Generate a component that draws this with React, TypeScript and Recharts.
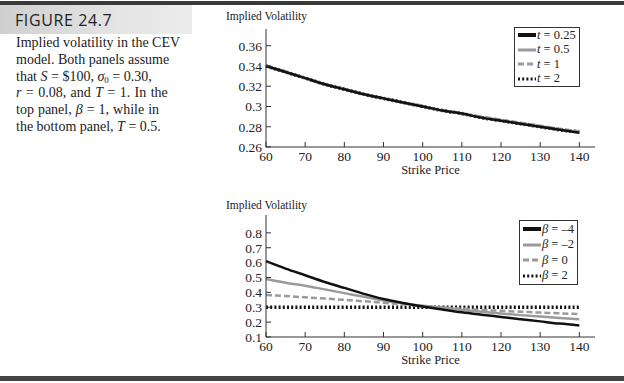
import { LineChart, Line, XAxis, YAxis } from "recharts";

const strikes = [60, 65, 70, 75, 80, 85, 90, 95, 100, 105, 110, 115, 120, 125, 130, 135, 140];

// top panel, beta = 1
const volT025 = [0.34, 0.334, 0.328, 0.322, 0.317, 0.312, 0.308, 0.304, 0.3, 0.296, 0.293, 0.289, 0.286, 0.283, 0.28, 0.277, 0.274];
const volT05 = [0.34, 0.334, 0.328, 0.322, 0.317, 0.312, 0.308, 0.304, 0.3, 0.296, 0.293, 0.289, 0.286, 0.283, 0.28, 0.277, 0.2745];
const volT1 = [0.34, 0.334, 0.328, 0.322, 0.317, 0.312, 0.308, 0.304, 0.3, 0.296, 0.293, 0.29, 0.287, 0.284, 0.281, 0.278, 0.2755];
const volT2 = [0.34, 0.334, 0.328, 0.322, 0.317, 0.312, 0.308, 0.304, 0.3, 0.296, 0.293, 0.289, 0.286, 0.283, 0.28, 0.277, 0.275];

// bottom panel, T = 0.5
const volBetaM4 = [0.61, 0.56, 0.515, 0.47, 0.43, 0.39, 0.355, 0.328, 0.305, 0.285, 0.266, 0.25, 0.235, 0.22, 0.205, 0.19, 0.178];
const volBetaM2 = [0.49, 0.465, 0.445, 0.42, 0.395, 0.37, 0.345, 0.327, 0.31, 0.296, 0.283, 0.27, 0.258, 0.247, 0.237, 0.228, 0.22];
const volBeta0 = [0.383, 0.375, 0.367, 0.358, 0.35, 0.34, 0.33, 0.32, 0.308, 0.298, 0.29, 0.282, 0.276, 0.27, 0.264, 0.259, 0.254];
const volBeta2 = [0.3, 0.3, 0.3, 0.3, 0.3, 0.3, 0.3, 0.3, 0.3, 0.3, 0.3, 0.3, 0.3, 0.3, 0.3, 0.3, 0.3];

const strikeTicks = [60, 70, 80, 90, 100, 110, 120, 130, 140];
const topVolTicks = [0.26, 0.28, 0.3, 0.32, 0.34, 0.36];
const bottomVolTicks = [0.1, 0.2, 0.3, 0.4, 0.5, 0.6, 0.7, 0.8];

const SERIF = "'Liberation Serif', 'Times New Roman', serif";
const INK = "#222";

type Series = {
  key: string;
  values: number[];
  sym: string;
  val: string;
  color: string;
  width: number;
  dash?: string;
};

// drawn back to front; legend lists them in reverse
const topSeries: Series[] = [
  { key: "t2", values: volT2, sym: "t", val: "2", color: "#111", width: 3.5, dash: "2 2.2" },
  { key: "t1", values: volT1, sym: "t", val: "1", color: "#9a9a9a", width: 2.5, dash: "6 3" },
  { key: "t05", values: volT05, sym: "t", val: "0.5", color: "#9a9a9a", width: 2.5 },
  { key: "t025", values: volT025, sym: "t", val: "0.25", color: "#111", width: 2.5 },
];

const bottomSeries: Series[] = [
  { key: "b2", values: volBeta2, sym: "β", val: "2", color: "#111", width: 3.5, dash: "2 2.2" },
  { key: "b0", values: volBeta0, sym: "β", val: "0", color: "#9a9a9a", width: 2.5, dash: "6 3" },
  { key: "bm2", values: volBetaM2, sym: "β", val: "–2", color: "#9a9a9a", width: 2.5 },
  { key: "bm4", values: volBetaM4, sym: "β", val: "–4", color: "#111", width: 2.5 },
];

const fmt = (v: number) => String(+v.toFixed(2));

function LegendBox({ series, left, top, width, height }: { series: Series[]; left: number; top: number; width: number; height: number }) {
  const rows = [...series].reverse();
  return (
    <div
      style={{
        position: "absolute",
        left,
        top,
        width,
        height,
        border: "1px solid #333",
        background: "#fff",
        boxSizing: "border-box",
        padding: "0 0 0 3px",
        fontFamily: SERIF,
        fontSize: 12.5,
        color: INK,
        display: "flex",
        flexDirection: "column",
        justifyContent: "space-evenly",
      }}
    >
      {rows.map((s) => (
        <div key={s.key} style={{ display: "flex", alignItems: "center", height: 14, whiteSpace: "nowrap" }}>
          <svg width={18} height={8} style={{ marginRight: 1 }}>
            <line
              x1={0}
              y1={4}
              x2={18}
              y2={4}
              stroke={s.color}
              strokeWidth={s.key === "t025" || s.key === "bm4" ? 4 : 3}
              strokeDasharray={s.dash}
            />
          </svg>
          <span>
            <i>{s.sym}</i> = {s.val}
          </span>
        </div>
      ))}
    </div>
  );
}

function Panel({
  series,
  top,
  plotTop,
  yDomain,
  yTicks,
  titleDy,
}: {
  series: Series[];
  top: number;
  plotTop: number;
  yDomain: [number, number];
  yTicks: number[];
  titleDy: number;
}) {
  const data = strikes.map((k, i) => {
    const row: Record<string, number> = { strike: k };
    series.forEach((s) => (row[s.key] = s.values[i]));
    return row;
  });
  const tick = { fontSize: 13.5, fill: INK, fontFamily: SERIF };
  return (
    <div style={{ position: "absolute", left: 0, top }}>
      <LineChart width={624} height={190} data={data} margin={{ top: plotTop, right: 29, bottom: 25, left: 206 }}>
        <XAxis
          dataKey="strike"
          type="number"
          domain={[60, 144]}
          ticks={strikeTicks}
          interval={0}
          height={18}
          tick={tick}
          tickSize={-5}
          tickMargin={9}
          stroke="#333"
          label={{ value: "Strike Price", position: "bottom", offset: 0, fontSize: 12.5, fill: INK, fontFamily: SERIF }}
        />
        <YAxis
          type="number"
          domain={yDomain}
          ticks={yTicks}
          interval={0}
          width={60}
          tick={tick}
          tickSize={-5}
          tickMargin={9}
          tickFormatter={fmt}
          stroke="#333"
          allowDataOverflow
          label={{
            content: (props: any) => {
              const vb = props.viewBox || {};
              return (
                <text
                  x={vb.x + vb.width - 40}
                  y={vb.y + titleDy}
                  dominantBaseline="middle"
                  fontSize={11.5}
                  fill={INK}
                  fontFamily={SERIF}
                >
                  Implied Volatility
                </text>
              );
            },
          }}
        />
        {series.map((s) => (
          <Line
            key={s.key}
            dataKey={s.key}
            type="monotone"
            stroke={s.color}
            strokeWidth={s.width}
            strokeDasharray={s.dash}
            dot={false}
            isAnimationActive={false}
          />
        ))}
      </LineChart>
    </div>
  );
}

// caption set loosely like the book's justified column (extra word spacing on short lines)
const captionLines = [
  { ws: 0, body: <>Implied volatility in the CEV</> },
  { ws: 0, body: <>model. Both panels assume</> },
  {
    ws: 0,
    body: (
      <>
        that <i>S</i> = $100, <i>σ</i>
        <sub style={{ fontSize: 9, lineHeight: 0, verticalAlign: "-2px" }}>0</sub> = 0.30,
      </>
    ),
  },
  {
    ws: 0.9,
    body: (
      <>
        <i>r</i> = 0.08, and <i>T</i> = 1. In the
      </>
    ),
  },
  {
    ws: 0.5,
    body: (
      <>
        top panel, <i>β</i> = 1, while in
      </>
    ),
  },
  {
    ws: 0,
    body: (
      <>
        the bottom panel, <i>T</i> = 0.5.
      </>
    ),
  },
];

export default function App() {
  return (
    <div style={{ position: "fixed", left: 0, top: 0, width: 624, height: 383, background: "#fff", overflow: "hidden" }}>
      <div style={{ position: "absolute", left: 0, top: 1, width: 624, height: 4, background: "#3a3a3a" }} />
      <div
        style={{
          position: "absolute",
          left: 0,
          top: 5,
          width: 192,
          height: 29,
          background: "linear-gradient(to right, #cfcfcf, #e4e4e4 60%, #ececec)",
        }}
      />
      <div
        style={{
          position: "absolute",
          left: 15,
          top: 10,
          fontFamily: "'Open Sans', 'Liberation Sans', sans-serif",
          fontSize: 16,
          letterSpacing: 0.6,
          color: "#222",
          lineHeight: "20px",
        }}
      >
        FIGURE 24.7
      </div>
      <div
        style={{
          position: "absolute",
          left: 16,
          top: 35,
          fontFamily: SERIF,
          fontSize: 14,
          lineHeight: "16.8px",
          color: INK,
          whiteSpace: "nowrap",
        }}
      >
        {captionLines.map((l, i) => (
          <div key={i} style={{ height: 16.8, wordSpacing: l.ws }}>
            {l.body}
          </div>
        ))}
      </div>

      <Panel series={topSeries} top={0} plotTop={29} yDomain={[0.26, 0.3765]} yTicks={topVolTicks} titleDy={-12} />
      <Panel series={bottomSeries} top={190} plotTop={25} yDomain={[0.1, 0.92]} yTicks={bottomVolTicks} titleDy={-9} />

      <LegendBox series={topSeries} left={514} top={27} width={66} height={60} />
      <LegendBox series={bottomSeries} left={519} top={220} width={59} height={65} />

      <div style={{ position: "absolute", left: 0, top: 376, width: 624, height: 5, background: "#444" }} />
    </div>
  );
}
